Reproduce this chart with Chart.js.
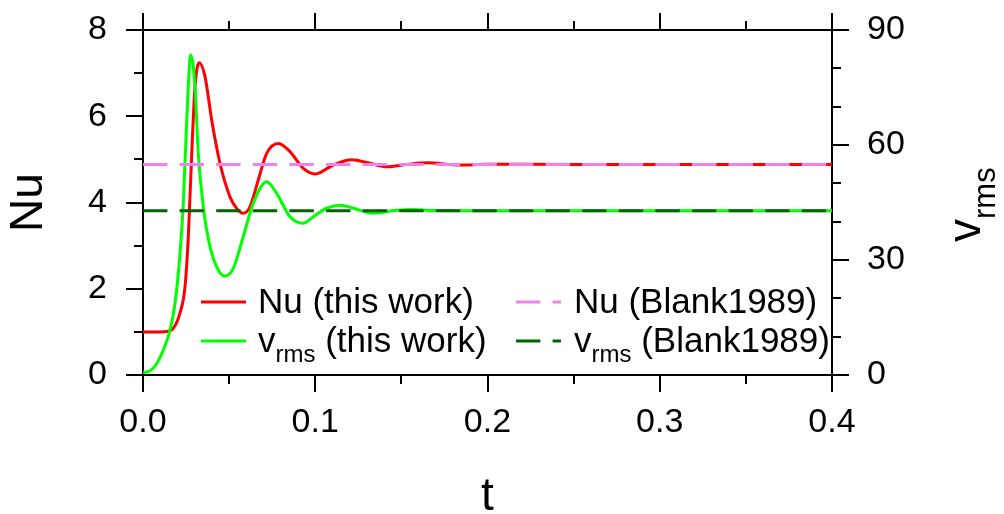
<!DOCTYPE html>
<html>
<head>
<meta charset="utf-8">
<title>Nu and vrms history</title>
<script src="https://cdn.jsdelivr.net/npm/chart.js@4.4.1/dist/chart.umd.min.js"></script>
<style>
  html, body { margin: 0; padding: 0; background: #fff; }
  canvas { display: block; }
</style>
</head>
<body>
<canvas id="myChart" width="1004" height="514"></canvas>
<script>
// transient run: Nusselt number vs time
const tNu = [0, 0.010, 0.014, 0.0176, 0.0215, 0.0244, 0.0263, 0.0283, 0.0302, 0.0327,
  0.036, 0.0399, 0.0447, 0.0505, 0.0544, 0.0582, 0.0621, 0.0669, 0.0718, 0.0786,
  0.0853, 0.0931, 0.100, 0.1105, 0.1212, 0.1318, 0.1415, 0.1531, 0.1647, 0.184,
  0.20, 0.25, 0.30, 0.35, 0.40];
const nuThisWork = [1.00, 1.00, 1.01, 1.08, 1.44, 2.05, 3.21, 5.14, 6.69, 7.24,
  6.92, 5.91, 4.91, 4.13, 3.86, 3.75, 3.90, 4.52, 5.14, 5.37,
  5.18, 4.79, 4.66, 4.87, 4.99, 4.91, 4.83, 4.88, 4.92, 4.87,
  4.885, 4.884, 4.884, 4.884, 4.884];

// transient run: rms velocity vs time
const tVrms = [0, 0.0041, 0.008, 0.0118, 0.0157, 0.0186, 0.0215, 0.0234, 0.0254, 0.0277,
  0.0302, 0.0321, 0.035, 0.0389, 0.0437, 0.0476, 0.0524, 0.0582, 0.064, 0.0718,
  0.0776, 0.0853, 0.0931, 0.0989, 0.1066, 0.1144, 0.1221, 0.1337, 0.1453, 0.1569,
  0.1685, 0.19, 0.25, 0.30, 0.35, 0.40];
const vrmsThisWork = [0.6, 1.1, 3.0, 6.5, 11.7, 18.7, 31.7, 44.8, 66.5, 83.5,
  75.2, 57.8, 43.9, 33.5, 27.4, 25.8, 27.8, 36.1, 44.8, 50.4,
  47.4, 41.3, 39.6, 41.3, 43.5, 44.3, 43.5, 42.2, 42.9, 43.2,
  42.9, 42.87, 42.865, 42.865, 42.865, 42.865];

// steady-state benchmark (Blankenbach et al. 1989, case 1a)
const nuBlank = 4.884;
const vrmsBlank = 42.865;
const tSpan = [0, 0.4];

const tTicks = [0, 0.1, 0.2, 0.3, 0.4];
const tMinor = [0.05, 0.15, 0.25, 0.35];
const nuTicks = [0, 2, 4, 6, 8];
const nuMinor = [1, 3, 5, 7];
const vrmsTicks = [0, 30, 60, 90];
const vrmsMinor = [10, 20, 40, 50, 70, 80];

// legend text split into main / subscript / rest
const legendLabels = [
  { main: 'Nu', sub: '', rest: ' (this work)' },
  { main: 'v', sub: 'rms', rest: ' (this work)' },
  { main: 'Nu', sub: '', rest: ' (Blank1989)' },
  { main: 'v', sub: 'rms', rest: ' (Blank1989)' }
];

const family = '"Liberation Sans", Arial, Helvetica, sans-serif';
const tickFont = { family: family, size: 34 };
const dash = [24.4, 12.2];

function pairs(xs, ys) {
  return xs.map((x, i) => ({ x: x, y: ys[i] }));
}

function fixedTicks(list) {
  return scale => { scale.ticks = list.map(v => ({ value: v })); };
}

// fixed box size, and no extra label padding pushed onto the chart area
function fixedSize(w, h) {
  return scale => {
    if (w !== null) scale.width = w;
    if (h !== null) scale.height = h;
    scale.paddingTop = 0;
    scale.paddingBottom = 0;
    scale.paddingLeft = 0;
    scale.paddingRight = 0;
  };
}

// draws "main" + subscript + rest on a baseline starting at x,y
function drawRichText(ctx, x, y, lbl, size, subSize, subDrop) {
  ctx.font = size + 'px ' + family;
  ctx.fillText(lbl.main, x, y);
  x += ctx.measureText(lbl.main).width;
  if (lbl.sub) {
    ctx.font = subSize + 'px ' + family;
    ctx.fillText(lbl.sub, x, y + subDrop);
    x += ctx.measureText(lbl.sub).width;
    ctx.font = size + 'px ' + family;
  }
  if (lbl.rest) ctx.fillText(lbl.rest, x, y);
}

const axisGrid = {
  drawOnChartArea: false,
  drawTicks: true,
  tickLength: 17,
  tickWidth: 2,
  tickColor: '#000',
  lineWidth: 2,
  color: '#000'
};
const axisBorder = { display: true, color: '#000', width: 2 };

const minorTicks = {
  id: 'minorTicks',
  afterDraw(chart) {
    const { ctx, chartArea: a, scales } = chart;
    const len = 9;
    ctx.save();
    ctx.strokeStyle = '#000';
    ctx.lineWidth = 2;
    ctx.beginPath();
    tMinor.forEach(v => {
      const x = Math.round(scales.x.getPixelForValue(v));
      ctx.moveTo(x, a.bottom); ctx.lineTo(x, a.bottom + len);
      ctx.moveTo(x, a.top); ctx.lineTo(x, a.top - len);
    });
    nuMinor.forEach(v => {
      const y = Math.round(scales.yNu.getPixelForValue(v));
      ctx.moveTo(a.left, y); ctx.lineTo(a.left - len, y);
    });
    vrmsMinor.forEach(v => {
      const y = Math.round(scales.yV.getPixelForValue(v));
      ctx.moveTo(a.right, y); ctx.lineTo(a.right + len, y);
    });
    ctx.stroke();
    ctx.restore();
  }
};

const legendBox = {
  id: 'legendBox',
  afterDraw(chart) {
    const ctx = chart.ctx;
    const ds = chart.data.datasets;
    // dataset index for each legend label, column by column
    const slots = [
      { ds: 2, lx: 201, tx: 258, ly: 302, ty: 313 },
      { ds: 3, lx: 201, tx: 258, ly: 341, ty: 352 },
      { ds: 0, lx: 516, tx: 574, ly: 302, ty: 313 },
      { ds: 1, lx: 516, tx: 574, ly: 341, ty: 352 }
    ];
    ctx.save();
    slots.forEach((s, i) => {
      const d = ds[s.ds];
      ctx.strokeStyle = d.borderColor;
      ctx.lineWidth = 3;
      ctx.setLineDash(d.borderDash || []);
      ctx.beginPath();
      ctx.moveTo(s.lx, s.ly);
      ctx.lineTo(s.lx + 45, s.ly);
      ctx.stroke();
      ctx.setLineDash([]);
      ctx.fillStyle = '#000';
      ctx.textBaseline = 'alphabetic';
      ctx.textAlign = 'left';
      drawRichText(ctx, s.tx, s.ty, legendLabels[i], 35, 24, 10);
    });

    // right axis title, read bottom to top
    ctx.translate(980, 242);
    ctx.rotate(-Math.PI / 2);
    drawRichText(ctx, 0, 0, { main: 'v', sub: 'rms', rest: '' }, 46, 31, 15);
    ctx.restore();
  }
};

const ctx = document.getElementById('myChart').getContext('2d');
const chart = new Chart(ctx, {
  type: 'line',
  data: {
    datasets: [
      {
        label: 'Nu (Blank1989)',
        data: tSpan.map(t => ({ x: t, y: nuBlank })),
        yAxisID: 'yNu',
        borderColor: '#ee82ee',
        borderWidth: 3,
        borderDash: dash,
        pointRadius: 0,
        order: 0
      },
      {
        label: 'vrms (Blank1989)',
        data: tSpan.map(t => ({ x: t, y: vrmsBlank })),
        yAxisID: 'yV',
        borderColor: '#006400',
        borderWidth: 3,
        borderDash: dash,
        pointRadius: 0,
        order: 0
      },
      {
        label: 'Nu (this work)',
        data: pairs(tNu, nuThisWork),
        yAxisID: 'yNu',
        borderColor: '#ff0000',
        borderWidth: 3,
        cubicInterpolationMode: 'monotone',
        pointRadius: 0,
        order: 2
      },
      {
        label: 'vrms (this work)',
        data: pairs(tVrms, vrmsThisWork),
        yAxisID: 'yV',
        borderColor: '#00ff00',
        borderWidth: 3,
        cubicInterpolationMode: 'monotone',
        pointRadius: 0,
        order: 1
      }
    ]
  },
  options: {
    responsive: false,
    animation: false,
    events: [],
    layout: { padding: 0 },
    plugins: {
      legend: { display: false },
      tooltip: { enabled: false }
    },
    scales: {
      x: {
        type: 'linear',
        position: 'bottom',
        min: tSpan[0],
        max: tSpan[1],
        afterBuildTicks: fixedTicks(tTicks),
        afterFit: fixedSize(null, 139),
        ticks: {
          callback: v => v.toFixed(1),
          font: tickFont,
          color: '#000',
          padding: 10,
          maxRotation: 0,
          autoSkip: false
        },
        grid: axisGrid,
        border: axisBorder,
        title: {
          display: true,
          text: 't',
          color: '#000',
          font: { family: family, size: 46, lineHeight: 0.8 },
          padding: { top: 0, bottom: -2 }
        }
      },
      xTop: {
        type: 'linear',
        position: 'top',
        min: tSpan[0],
        max: tSpan[1],
        afterBuildTicks: fixedTicks(tTicks),
        afterFit: fixedSize(null, 30),
        ticks: { display: false },
        grid: axisGrid,
        border: axisBorder
      },
      yNu: {
        type: 'linear',
        position: 'left',
        min: 0,
        max: 8,
        afterBuildTicks: fixedTicks(nuTicks),
        afterFit: fixedSize(143, null),
        ticks: { font: tickFont, color: '#000', padding: 19 },
        grid: axisGrid,
        border: axisBorder,
        title: {
          display: true,
          text: 'Nu',
          color: '#000',
          font: { family: family, size: 46 },
          padding: { top: 2, bottom: 0 }
        }
      },
      yV: {
        type: 'linear',
        position: 'right',
        min: 0,
        max: 90,
        afterBuildTicks: fixedTicks(vrmsTicks),
        afterFit: fixedSize(172, null),
        ticks: { font: tickFont, color: '#000', padding: 18 },
        grid: axisGrid,
        border: axisBorder
      }
    }
  },
  plugins: [minorTicks, legendBox]
});
</script>
</body>
</html>
